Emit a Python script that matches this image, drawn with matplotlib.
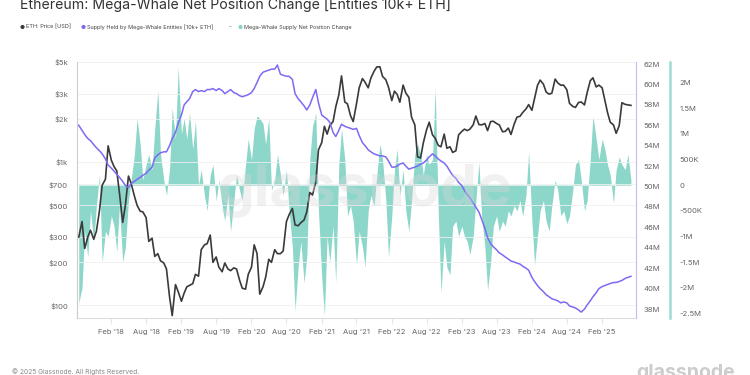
import matplotlib
matplotlib.use("Agg")
import matplotlib.pyplot as plt
import matplotlib.dates as mdates
import pandas as pd

plt.rcParams['font.family'] = ['Inter', 'DejaVu Sans']

# semi-monthly samples, 2017-08-15 .. 2025-07-01
dates = pd.date_range('2017-08-15', '2025-07-01', freq='SMS')

# ETH price [USD]
price = [
    300, 385, 250, 300, 335, 290, 330, 460, 690,
    760, 1300, 1030, 930, 870, 610, 380, 500, 800, 710, 580, 500, 455, 450, 410, 280, 295, 220, 230, 205, 198, 180, 115, 85,
    140, 125, 107, 122, 135, 138, 142, 165, 160, 245, 265, 270, 310, 200, 218, 185, 172, 198, 180, 175, 183, 180, 150, 132,
    130, 165, 185, 265, 230, 120, 135, 158, 210, 200, 245, 230, 230, 240, 385, 430, 475, 365, 360, 378, 395, 450, 615, 590,
    730, 1220, 1370, 1780, 1570, 1800, 1920, 2430, 2950, 4000, 2630, 2550, 2110, 1920, 2550, 3300, 3830, 3610, 3300, 3860, 4320, 4620, 4630, 3960,
    3760, 3330, 2690, 3130, 2970, 2620, 3450, 3040, 2830, 2060, 1820, 1090, 1070, 1360, 1680, 1900, 1550, 1470, 1310, 1280, 1570, 1250, 1280, 1170,
    1200, 1550, 1640, 1700, 1660, 1700, 1820, 2100, 1830, 1820, 1860, 1660, 1920, 1930, 1860, 1820, 1630, 1640, 1730, 1560, 1850, 2060, 2090, 2220,
    2350, 2520, 2300, 2780, 3430, 3740, 3500, 3090, 2980, 3030, 3800, 3570, 3440, 3450, 3200, 2570, 2450, 2410, 2610, 2630, 2510, 3060, 3700, 3880,
    3350, 3450, 3300, 2700, 2220, 1900, 1820, 1590, 1800, 2600, 2530, 2510, 2490,
]

# supply held by mega-whale entities [M ETH]
supply = [
    56.0, 55.5, 55.1, 54.7, 54.5, 54.1, 53.8, 53.5, 53.2,
    52.7, 52.1, 51.8, 51.5, 51.2, 50.9, 50.5, 50.1, 49.9, 50.3, 50.5, 50.7, 50.9, 51.1, 51.3, 51.6, 51.9, 52.8, 53.1, 53.3, 53.4, 53.4, 54.0, 54.7,
    55.3, 56.2, 57.0, 58.0, 58.3, 58.6, 59.3, 59.5, 59.3, 59.4, 59.3, 59.5, 59.5, 59.6, 59.4, 59.6, 59.4, 59.1, 59.3, 59.5, 59.2, 59.1, 58.9, 58.8,
    58.9, 59.0, 59.2, 59.6, 60.2, 60.8, 61.2, 61.3, 61.4, 61.5, 61.5, 61.9, 61.0, 60.9, 60.8, 60.8, 60.5, 59.1, 58.6, 58.3, 57.9, 57.5, 58.0, 58.7,
    59.5, 58.2, 57.0, 56.8, 56.6, 56.3, 55.3, 54.9, 55.5, 56.1, 55.9, 55.8, 55.7, 55.6, 55.7, 55.0, 54.3, 54.0, 53.6, 53.4, 53.2, 53.1, 53.0, 53.0,
    52.9, 52.5, 51.9, 51.9, 52.0, 52.2, 52.3, 52.0, 51.7, 51.8, 51.9, 52.0, 52.2, 52.3, 52.6, 52.9, 53.2, 53.0, 52.7, 52.5, 52.3, 52.0, 51.5, 51.1,
    50.8, 50.4, 50.1, 49.6, 49.2, 48.9, 48.4, 48.0, 47.5, 46.8, 45.9, 45.0, 44.4, 44.1, 43.8, 43.5, 43.3, 43.1, 42.9, 42.7, 42.6, 42.5, 42.4, 42.2,
    42.0, 41.8, 41.1, 40.7, 40.3, 40.0, 39.7, 39.4, 39.2, 39.0, 38.9, 38.8, 38.6, 38.7, 38.6, 38.3, 38.2, 38.1, 37.9, 37.7, 38.0, 38.4, 38.8, 39.2,
    39.6, 40.0, 40.2, 40.3, 40.4, 40.5, 40.6, 40.6, 40.7, 40.8, 41.0, 41.1, 41.2,
]

# net position change [M ETH]
net_change = [
    -2.3, -2.0, -0.9, -1.4, -0.5, -1.1, -0.4, 0.2, -1.5,
    -0.9, -1.0, -0.6, -0.8, -1.3, -0.4, -1.5, -1.2, -0.3, 0.1, 0.6, 1.3, 0.8, 0.1, 0.4, 0.6, 0.3, 1.1, 1.85, 0.6, 0.1, -0.2, 0.3, 1.5,
    0.9, 2.3, 1.0, 1.3, 0.9, 1.4, 0.7, 1.25, 0.0, 0.3, -0.2, -0.5, 0.2, 0.4, -0.3, 0.1, -0.4, -0.7, -0.2, -0.9, -0.3, 0.2, -0.1, -0.3,
    0.4, 0.9, 0.5, 1.1, 1.35, 1.3, 1.2, 0.8, 1.3, -0.1, 0.1, 0.6, 0.2, -0.2, 0.3, -0.5, -1.2, -2.45, -1.6, -1.1, -1.9, -1.4, 0.5, 1.15,
    1.4, -0.5, -1.8, -2.55, -1.0, -1.5, -0.8, -1.9, 0.4, 1.1, 0.5, -0.6, -0.4, -0.7, -1.55, -0.9, -1.2, -1.6, -0.5, -0.2, -0.4, 0.2, 0.8, 0.5,
    -0.3, -1.4, -0.6, 0.3, 0.7, -0.2, 0.3, -0.5, -0.9, -0.3, 0.6, 0.8, 0.6, 0.2, 0.6, 0.4, 0.5, 1.9, -0.5, -2.1, -1.1, -1.6, -1.75, -0.8,
    -0.7, -1.0, -0.8, -1.0, -1.1, -1.35, -1.0, -0.3, 0.45, -0.6, -1.2, -2.05, -1.5, -0.8, -0.6, -0.9, -0.7, -0.8, -0.5, -0.6, -0.4, -0.5, -0.3, -0.6,
    -0.2, 0.65, -0.7, -1.55, -1.0, -0.5, -0.3, -0.7, -0.9, -0.4, 0.1, -0.1, -0.6, -0.5, -0.75, -0.6, -0.1, 0.4, 0.5, 0.1, -0.5, -0.3, 0.5, 1.35,
    0.9, 0.5, 0.9, 0.7, 0.4, 0.2, -0.35, 0.3, 0.55, 0.4, 0.3, 0.6, 0.1,
]

price_ticks = [100, 200, 300, 500, 700, 1000, 2000, 3000, 5000]
price_labels = ['$100', '$200', '$300', '$500', '$700', '$1k', '$2k', '$3k', '$5k']
supply_ticks = [38, 40, 42, 44, 46, 48, 50, 52, 54, 56, 58, 60, 62]
supply_labels = ['%dM' % v for v in supply_ticks]
net_ticks = [-2.5, -2, -1.5, -1, -0.5, 0, 0.5, 1, 1.5, 2]
net_labels = ['-2.5M', '-2M', '-1.5M', '-1M', '-500K', '0', '500K', '1M', '1.5M', '2M']

BLACK = '#3a3a3a'
PURPLE = '#7d6af3'
TEAL = '#86d4c7'
TXT = '#666666'

fig = plt.figure(figsize=(7.5, 3.75), dpi=100)
ax = fig.add_axes([0.1027, 0.152, 0.7447, 0.6827])

# teal fill on base axes (drawn below the lines)
ax.fill_between(dates, 0, net_change, color=TEAL, lw=0, alpha=0.95)
ax.set_ylim(-2.59, 2.40)

# price, log scale on the left
axp = ax.twinx()
axp.plot(dates, price, color=BLACK, lw=1.2)
axp.set_yscale('log')
axp.set_ylim(81.8, 5000)

# supply on the inner right
axs = ax.twinx()
axs.plot(dates, supply, color=PURPLE, lw=1.1)
axs.set_ylim(37.12, 62.2)

# net change axis: outer right
ax.yaxis.tick_right()
ax.yaxis.set_label_position('right')
ax.set_yticks(net_ticks)
ax.set_yticklabels(net_labels)
ax.spines['right'].set_visible(True)
ax.spines['right'].set_position(('outward', 24.8))
ax.spines['right'].set_color('#9cdcd1')
ax.spines['right'].set_linewidth(1.8)
ax.spines['top'].set_visible(False)
ax.spines['left'].set_visible(False)
ax.spines['bottom'].set_color('#dddddd')
ax.tick_params(axis='y', length=0, pad=7, labelsize=5.5, labelcolor=TXT)

axp.yaxis.tick_left()
axp.yaxis.set_label_position('left')
axp.set_yticks(price_ticks)
axp.set_yticklabels(price_labels)
axp.yaxis.set_minor_locator(matplotlib.ticker.NullLocator())
axp.tick_params(axis='y', length=0, pad=6.5, labelsize=5.5, labelcolor=TXT)
axp.grid(axis='y', color='#f0f0f0', lw=0.6)
for s in ['top', 'right', 'bottom']:
    axp.spines[s].set_visible(False)
axp.spines['left'].set_visible(True)
axp.spines['left'].set_color('#cccccc')

axs.set_yticks(supply_ticks)
axs.set_yticklabels(supply_labels)
axs.tick_params(axis='y', length=0, pad=5.4, labelsize=5.5, labelcolor=TXT)
for s in ['top', 'left', 'bottom']:
    axs.spines[s].set_visible(False)
axs.spines['right'].set_color('#c4bcf8')

ax.set_xlim(pd.Timestamp('2017-08-06'), pd.Timestamp('2025-07-25'))
ax.xaxis.set_major_locator(mdates.MonthLocator(bymonth=[2, 8]))
ax.xaxis.set_major_formatter(mdates.DateFormatter("%b '%y"))
ax.tick_params(axis='x', length=4, color='#e6e6e6', pad=4, labelsize=5.5, labelcolor=TXT)

# watermark
fig.text(0.487, 0.49, 'glassnode', fontsize=42, color='#d8d8d8', alpha=0.35,
         ha='center', va='center', fontweight='bold')

# title and legend
fig.text(20 / 750, 1 - 9 / 375, 'Ethereum: Mega-Whale Net Position Change [Entities 10k+ ETH]',
         fontsize=10.2, color='#333333', va='baseline')
legend = [
    (22, BLACK, 'ETH: Price [USD]'),
    (83, PURPLE, 'Supply Held by Mega-Whale Entities [10k+ ETH]'),
    (240, TEAL, 'Mega-Whale Supply Net Position Change'),
]
for x, c, label in legend:
    fig.text(x / 750, 1 - 27 / 375, '●', fontsize=4, color=c, ha='center', va='center')
    fig.text((x + 4) / 750, 1 - 27 / 375, label, fontsize=4.0, color='#444444', va='center')
fig.text(229 / 750, 1 - 27 / 375, '-', fontsize=4.3, color='#444444', va='center')

# footer
fig.text(12 / 750, 1 - 368 / 375, '© 2025 Glassnode. All Rights Reserved.',
         fontsize=4.8, color='#888888', va='top')
fig.text(735 / 750, 1 - 364 / 375, 'glassnode', fontsize=14, color='#cccccc',
         ha='right', va='top', fontweight='bold')

fig.savefig('out.png', dpi=100)
